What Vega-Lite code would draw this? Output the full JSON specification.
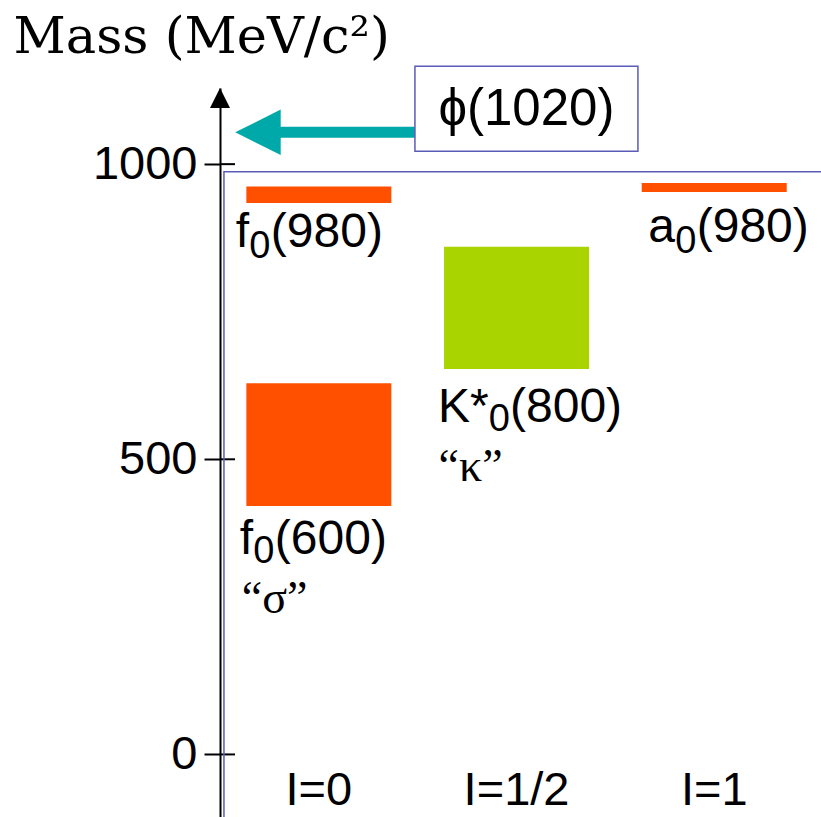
{
  "$schema": "https://vega.github.io/schema/vega-lite/v6.json",
  "width": 601,
  "height": 729,
  "autosize": {"type": "none"},
  "padding": {"left": 220, "top": 88, "right": 0, "bottom": 0},
  "background": "white",
  "config": {
    "view": {"stroke": null},
    "font": "Liberation Sans",
    "text": {"font": "Liberation Sans", "fontSize": 48, "color": "black", "align": "left", "baseline": "alphabetic"}
  },
  "datasets": {
    "states": [
      {"state": "f0(980)", "I": 0, "lo": 934, "hi": 962, "S": 0, "base": "f", "sub": "0", "tag": "(980)", "alias": ""},
      {"state": "a0(980)", "I": 1, "lo": 953, "hi": 968, "S": 0, "base": "a", "sub": "0", "tag": "(980)", "alias": ""},
      {"state": "f0(600)", "I": 0, "lo": 421, "hi": 629, "S": 0, "base": "f", "sub": "0", "tag": "(600)", "alias": "“σ”"},
      {"state": "K*0(800)", "I": 0.5, "lo": 653, "hi": 860, "S": 1, "base": "K*", "sub": "0", "tag": "(800)", "alias": "“κ”"}
    ],
    "isospin": [
      {"I": 0, "label": "I=0"},
      {"I": 0.5, "label": "I=1/2"},
      {"I": 1, "label": "I=1"}
    ],
    "massTicks": [{"m": 0}, {"m": 500}, {"m": 1000}],
    "vector": [{"state": "ϕ(1020)", "mass": 1054}]
  },
  "layer": [
    {
      "data": {"name": "massTicks"},
      "mark": {"type": "rule", "color": "black", "strokeWidth": 2},
      "encoding": {
        "y": {
          "field": "m", "type": "quantitative",
          "scale": {"domain": [-106, 1129], "nice": false, "zero": false, "padding": 0},
          "axis": {
            "values": [0, 500, 1000],
            "format": "d",
            "grid": false,
            "domainColor": "black", "domainWidth": 2,
            "tickColor": "black", "tickWidth": 2, "tickSize": 16,
            "labelFont": "Liberation Sans", "labelFontSize": 47, "labelColor": "black", "labelPadding": 7,
            "title": "Mass (MeV/c²)",
            "titleFont": "DejaVu Serif", "titleFontSize": 51, "titleFontWeight": "normal", "titleColor": "black",
            "titleAngle": 0, "titleAlign": "left", "titleBaseline": "alphabetic",
            "titleX": -207, "titleY": -36
          }
        },
        "x": {"datum": -0.25, "type": "quantitative", "scale": {"domain": [-0.25, 1.27], "nice": false, "zero": false, "padding": 0}, "axis": null},
        "x2": {"datum": -0.212}
      }
    },
    {
      "data": {"values": [{}]},
      "mark": {"type": "point", "shape": "M0,-1L1,1L-1,1Z", "size": 400, "filled": true, "color": "black", "opacity": 1},
      "encoding": {
        "x": {"datum": -0.25, "type": "quantitative", "scale": {"domain": [-0.25, 1.27], "nice": false, "zero": false, "padding": 0}, "axis": null},
        "y": {"datum": 1112, "type": "quantitative"}
      }
    },
    {
      "data": {"values": [{}]},
      "mark": {"type": "rect", "filled": false, "color": "#5B5BB8", "strokeWidth": 1.5},
      "encoding": {
        "x": {"datum": -0.24, "type": "quantitative", "scale": {"domain": [-0.25, 1.27], "nice": false, "zero": false, "padding": 0}, "axis": null},
        "x2": {"datum": 1.4},
        "y": {"datum": 987, "type": "quantitative"},
        "y2": {"datum": -250}
      }
    },
    {
      "data": {"name": "states"},
      "mark": {"type": "bar", "width": 145},
      "encoding": {
        "x": {"field": "I", "type": "quantitative", "scale": {"domain": [-0.25, 1.27], "nice": false, "zero": false, "padding": 0}, "axis": null},
        "y": {"field": "lo", "type": "quantitative"},
        "y2": {"field": "hi"},
        "color": {"field": "S", "type": "nominal", "scale": {"domain": [0, 1], "range": ["#FF5000", "#AAD400"]}, "legend": null}
      }
    },
    {
      "data": {"name": "states"},
      "transform": [{"filter": "datum.state === 'f0(980)'"}],
      "encoding": {
        "x": {"field": "I", "type": "quantitative", "scale": {"domain": [-0.25, 1.27], "nice": false, "zero": false, "padding": 0}, "axis": null},
        "y": {"field": "lo", "type": "quantitative"}
      },
      "layer": [
        {"mark": {"type": "text", "dx": -83, "dy": 44}, "encoding": {"text": {"field": "base"}}},
        {"mark": {"type": "text", "dx": -69.5, "dy": 55, "fontSize": 38}, "encoding": {"text": {"field": "sub"}}},
        {"mark": {"type": "text", "dx": -48, "dy": 44}, "encoding": {"text": {"field": "tag"}}}
      ]
    },
    {
      "data": {"name": "states"},
      "transform": [{"filter": "datum.state === 'a0(980)'"}],
      "encoding": {
        "x": {"field": "I", "type": "quantitative", "scale": {"domain": [-0.25, 1.27], "nice": false, "zero": false, "padding": 0}, "axis": null},
        "y": {"field": "lo", "type": "quantitative"}
      },
      "layer": [
        {"mark": {"type": "text", "dx": -66, "dy": 50}, "encoding": {"text": {"field": "base"}}},
        {"mark": {"type": "text", "dx": -39, "dy": 61, "fontSize": 38}, "encoding": {"text": {"field": "sub"}}},
        {"mark": {"type": "text", "dx": -17.5, "dy": 50}, "encoding": {"text": {"field": "tag"}}}
      ]
    },
    {
      "data": {"name": "states"},
      "transform": [{"filter": "datum.state === 'f0(600)'"}],
      "encoding": {
        "x": {"field": "I", "type": "quantitative", "scale": {"domain": [-0.25, 1.27], "nice": false, "zero": false, "padding": 0}, "axis": null},
        "y": {"field": "lo", "type": "quantitative"}
      },
      "layer": [
        {"mark": {"type": "text", "dx": -79, "dy": 48}, "encoding": {"text": {"field": "base"}}},
        {"mark": {"type": "text", "dx": -65.5, "dy": 57, "fontSize": 38}, "encoding": {"text": {"field": "sub"}}},
        {"mark": {"type": "text", "dx": -44, "dy": 48}, "encoding": {"text": {"field": "tag"}}},
        {"mark": {"type": "text", "dx": -77, "dy": 107, "font": "Liberation Serif", "fontSize": 46}, "encoding": {"text": {"field": "alias"}}}
      ]
    },
    {
      "data": {"name": "states"},
      "transform": [{"filter": "datum.state === 'K*0(800)'"}],
      "encoding": {
        "x": {"field": "I", "type": "quantitative", "scale": {"domain": [-0.25, 1.27], "nice": false, "zero": false, "padding": 0}, "axis": null},
        "y": {"field": "lo", "type": "quantitative"}
      },
      "layer": [
        {"mark": {"type": "text", "dx": -78.5, "dy": 53}, "encoding": {"text": {"field": "base"}}},
        {"mark": {"type": "text", "dx": -27.8, "dy": 62, "fontSize": 38}, "encoding": {"text": {"field": "sub"}}},
        {"mark": {"type": "text", "dx": -6.5, "dy": 53}, "encoding": {"text": {"field": "tag"}}},
        {"mark": {"type": "text", "dx": -78, "dy": 112, "font": "Liberation Serif", "fontSize": 46}, "encoding": {"text": {"field": "alias"}}}
      ]
    },
    {
      "data": {"name": "isospin"},
      "mark": {"type": "text", "align": "center", "fontSize": 47},
      "encoding": {
        "x": {"field": "I", "type": "quantitative", "scale": {"domain": [-0.25, 1.27], "nice": false, "zero": false, "padding": 0}, "axis": null},
        "y": {"datum": -85.7, "type": "quantitative"},
        "text": {"field": "label"}
      }
    },
    {
      "data": {"name": "vector"},
      "mark": {"type": "rule", "color": "#00A9A9", "strokeWidth": 11},
      "encoding": {
        "x": {"datum": 0.243, "type": "quantitative", "scale": {"domain": [-0.25, 1.27], "nice": false, "zero": false, "padding": 0}, "axis": null},
        "x2": {"datum": -0.12},
        "y": {"field": "mass", "type": "quantitative"}
      }
    },
    {
      "data": {"name": "vector"},
      "mark": {"type": "point", "shape": "M-1,0L1,-1L1,1Z", "size": 2070, "filled": true, "color": "#00A9A9", "opacity": 1},
      "encoding": {
        "x": {"datum": -0.154, "type": "quantitative", "scale": {"domain": [-0.25, 1.27], "nice": false, "zero": false, "padding": 0}, "axis": null},
        "y": {"field": "mass", "type": "quantitative"}
      }
    },
    {
      "data": {"name": "vector"},
      "mark": {"type": "rect", "fill": "white", "stroke": "#5B5BB8", "strokeWidth": 1.5},
      "encoding": {
        "x": {"datum": 0.243, "type": "quantitative", "scale": {"domain": [-0.25, 1.27], "nice": false, "zero": false, "padding": 0}, "axis": null},
        "x2": {"datum": 0.807},
        "y": {"datum": 1166, "type": "quantitative"},
        "y2": {"datum": 1022}
      }
    },
    {
      "data": {"name": "vector"},
      "mark": {"type": "text", "align": "center", "fontSize": 51},
      "encoding": {
        "x": {"datum": 0.525, "type": "quantitative", "scale": {"domain": [-0.25, 1.27], "nice": false, "zero": false, "padding": 0}, "axis": null},
        "y": {"datum": 1066, "type": "quantitative"},
        "text": {"field": "state"}
      }
    }
  ]
}
